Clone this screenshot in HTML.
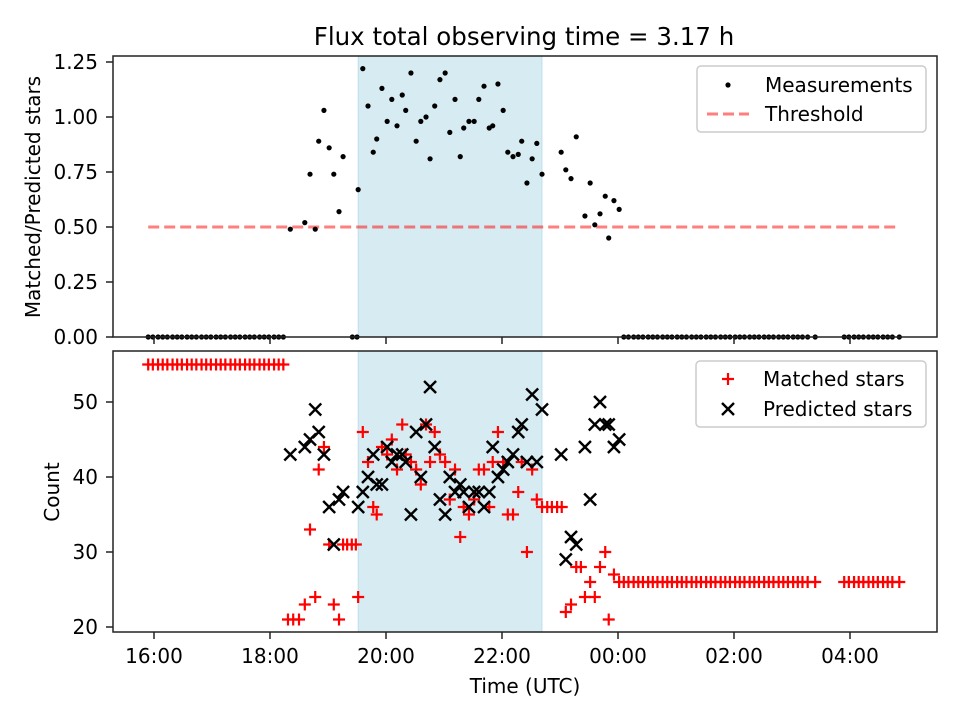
<!DOCTYPE html>
<html><head><meta charset="utf-8"><style>body{margin:0;background:#fff}svg{display:block;font-family:"DejaVu Sans","Liberation Sans",sans-serif}</style></head>
<body>
<svg id="chart" width="960" height="720" viewBox="0 0 960 720"></svg>
<script>
// ---- data (time in hours since 00:00 of first day; >24 = next day) ----
const offLeftTimes=[15.90,15.98,16.07,16.15,16.23,16.32,16.40,16.48,16.57,16.65,16.73,16.82,16.90,16.98,17.07,17.15,17.23,17.32,17.40,17.48,17.57,17.65,17.73,17.82,17.90,17.98,18.07,18.15,18.23];
const offMidTimes=[19.42,19.50];
const offRightTimes=[24.10,24.18,24.27,24.35,24.43,24.52,24.60,24.68,24.77,24.85,24.93,25.02,25.10,25.18,25.27,25.35,25.43,25.52,25.60,25.68,25.77,25.85,25.93,26.02,26.10,26.18,26.27,26.35,26.43,26.52,26.60,26.68,26.77,26.85,26.93,27.02,27.10,27.18,27.27,27.40,27.90,27.98,28.07,28.15,28.23,28.32,28.40,28.48,28.57,28.65,28.73,28.85];
const offLeftMatched=55;
const offRightMatched=26;
const measTimes=[18.35,18.60,18.69,18.78,18.84,18.93,19.02,19.10,19.19,19.26,19.52,19.60,19.69,19.78,19.84,19.93,20.02,20.10,20.19,20.28,20.34,20.43,20.52,20.60,20.69,20.76,20.84,20.93,21.02,21.10,21.19,21.28,21.34,21.43,21.52,21.60,21.69,21.78,21.84,21.93,22.02,22.10,22.19,22.28,22.34,22.43,22.52,22.60,22.69,23.02,23.10,23.19,23.28,23.43,23.52,23.60,23.69,23.78,23.84,23.93,24.02];
const measValues=[0.49,0.52,0.74,0.49,0.89,1.03,0.86,0.74,0.57,0.82,0.67,1.22,1.05,0.84,0.90,1.13,0.98,1.08,0.96,1.10,1.03,1.20,0.89,0.98,1.00,0.81,1.05,1.17,1.20,0.93,1.08,0.82,0.95,0.98,0.98,1.08,1.14,0.95,0.96,1.15,1.03,0.84,0.82,0.83,0.89,0.70,0.81,0.88,0.74,0.84,0.76,0.72,0.91,0.55,0.70,0.51,0.56,0.64,0.45,0.62,0.58];
const predValues=[43,44,45,49,46,43,36,31,37,38,36,38,40,43,39,39,44,42,43,43,42,35,46,40,47,52,44,37,35,40,38,39,38,36,38,38,36,38,44,40,41,42,43,46,47,42,51,42,49,43,29,32,31,44,37,47,50,47,47,44,45];
const matchTimes=[18.31,18.40,18.50,18.60,18.69,18.78,18.84,18.93,19.02,19.10,19.19,19.26,19.33,19.41,19.48,19.52,19.60,19.69,19.78,19.84,19.93,20.02,20.10,20.19,20.28,20.34,20.43,20.52,20.60,20.69,20.76,20.84,20.93,21.02,21.10,21.19,21.28,21.34,21.43,21.52,21.60,21.69,21.78,21.84,21.93,22.02,22.10,22.19,22.28,22.34,22.43,22.52,22.60,22.69,22.78,22.86,22.95,23.03,23.10,23.19,23.28,23.36,23.43,23.52,23.60,23.69,23.78,23.84,23.93,24.02];
const matchValues=[21,21,21,23,33,24,41,44,31,23,21,31,31,31,31,24,46,42,36,35,44,43,45,41,47,43,42,41,39,47,42,46,43,42,37,41,32,36,35,37,41,41,36,42,46,42,35,35,38,42,30,41,37,36,36,36,36,36,22,23,28,28,24,26,24,28,30,21,27,26];
const spanStart=19.52, spanEnd=22.69, threshold=0.5, thrStart=15.9, thrEnd=28.85;
const xTicks=[16,18,20,22,24,26,28];
const xTickLabels=["16:00","18:00","20:00","22:00","00:00","02:00","04:00"];
const topTicks=[0,0.25,0.5,0.75,1.0,1.25];
const topTickLabels=["0.00","0.25","0.50","0.75","1.00","1.25"];
const botTicks=[20,30,40,50];
const botTickLabels=["20","30","40","50"];

const NS="http://www.w3.org/2000/svg";
const svg=document.getElementById('chart');
function mk(tag,attrs,parent,text){const e=document.createElementNS(NS,tag);for(const k in attrs)e.setAttribute(k,attrs[k]);if(text!==undefined)e.textContent=text;(parent||svg).appendChild(e);return e;}
const L=113,R=937,T1=56,B1=337,T2=351,B2=632;
const xs=t=>154+(t-16)*58;
const y1=v=>337-v*220;
const y2=c=>627-(c-20)*7.5;

function axes(top,bot,name){
  const r=mk('rect',{x:L,y:top,width:R-L,height:bot-top,fill:'none',stroke:'#222','stroke-width':1.5});
  
  
}
function span(top,bot,name){
  const r=mk('rect',{x:xs(spanStart),y:top,width:xs(spanEnd)-xs(spanStart),height:bot-top,fill:'#add8e6','fill-opacity':0.5,stroke:'#add8e6','stroke-opacity':0.7});
  
  
}
span(T1,B1,'top');span(T2,B2,'bottom');

const th=mk('line',{x1:xs(thrStart),x2:xs(thrEnd),y1:y1(threshold),y2:y1(threshold),stroke:'#ff0000','stroke-opacity':0.5,'stroke-width':3,'stroke-dasharray':'11,5'});



function dot(t,v){const c=mk('circle',{cx:xs(t),cy:y1(v),r:2.6,fill:'#000'});
  
  }
offLeftTimes.concat(offMidTimes,offRightTimes).forEach(t=>dot(t,0));
measTimes.forEach((t,i)=>dot(t,measValues[i]));

function plus(x,y){const g=mk('path',{d:`M${x-6},${y}H${x+6}M${x},${y-6}V${y+6}`,stroke:'#ff0000','stroke-width':2.2,fill:'none'});
  
  }
function cross(x,y){const g=mk('path',{d:`M${x-6},${y-6}L${x+6},${y+6}M${x-6},${y+6}L${x+6},${y-6}`,stroke:'#000','stroke-width':2.4,fill:'none'});
  
  }
offLeftTimes.forEach(t=>plus(xs(t),y2(offLeftMatched)));
offRightTimes.forEach(t=>plus(xs(t),y2(offRightMatched)));
matchTimes.forEach((t,i)=>plus(xs(t),y2(matchValues[i])));
measTimes.forEach((t,i)=>cross(xs(t),y2(predValues[i])));

axes(T1,B1,'top');axes(T2,B2,'bottom');

xTicks.forEach((t,i)=>{
  [B1,B2].forEach(b=>{const l=mk('line',{x1:xs(t),x2:xs(t),y1:b,y2:b+7,stroke:'#222','stroke-width':1.5});
    
    });
  const tx=mk('text',{x:xs(t),y:663,'font-size':20,'text-anchor':'middle'},svg,xTickLabels[i]);
  
  
});
topTicks.forEach((v,i)=>{
  const l=mk('line',{x1:L-7,x2:L,y1:y1(v),y2:y1(v),stroke:'#222','stroke-width':1.5});
  
  
  const tx=mk('text',{x:L-15,y:y1(v)+7,'font-size':20,'text-anchor':'end'},svg,topTickLabels[i]);
  
  
});
botTicks.forEach((v,i)=>{
  const l=mk('line',{x1:L-7,x2:L,y1:y2(v),y2:y2(v),stroke:'#222','stroke-width':1.5});
  
  
  const tx=mk('text',{x:L-15,y:y2(v)+7,'font-size':20,'text-anchor':'end'},svg,botTickLabels[i]);
  
  
});
</script>
<svg style="position:absolute;left:0;top:0" width="960" height="720" font-family="DejaVu Sans, Liberation Sans, sans-serif">
  <text x="524" y="45" font-size="24.5" text-anchor="middle">Flux total observing time = 3.17 h</text>
  <text x="525" y="693" font-size="20" text-anchor="middle">Time (UTC)</text>
  <text transform="translate(40,197) rotate(-90)" font-size="20" text-anchor="middle">Matched/Predicted stars</text>
  <text transform="translate(59,492) rotate(-90)" font-size="20" text-anchor="middle">Count</text>
  <g>
    <rect x="697" y="66" width="229" height="66" rx="4" fill="#fff" fill-opacity="0.8" stroke="#ccc" stroke-width="1.5"/>
    <circle cx="728" cy="85" r="2.6" fill="#000"/>
    <text x="765" y="92" font-size="20">Measurements</text>
    <line x1="707" x2="749" y1="114" y2="114" stroke="#ff0000" stroke-opacity="0.5" stroke-width="3" stroke-dasharray="11,5"/>
    <text x="765" y="121" font-size="20">Threshold</text>
  </g>
  <g>
    <rect x="696" y="361" width="230" height="66" rx="4" fill="#fff" fill-opacity="0.8" stroke="#ccc" stroke-width="1.5"/>
    <path d="M722,379H734M728,373V385" stroke="#ff0000" stroke-width="2.2"/>
    <text x="763" y="386" font-size="20">Matched stars</text>
    <path d="M722,403L734,415M722,415L734,403" stroke="#000" stroke-width="2.4"/>
    <text x="763" y="416" font-size="20">Predicted stars</text>
  </g>
</svg>
</body></html>
